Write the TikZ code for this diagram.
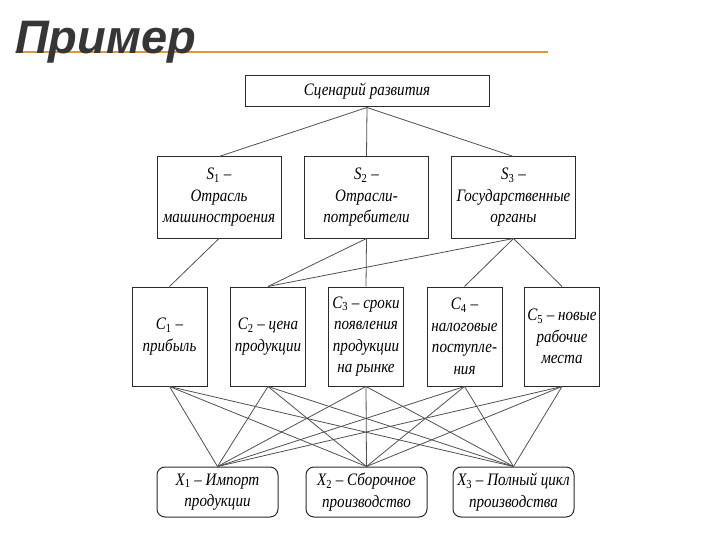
\documentclass[tikz,border=0pt]{standalone}
\usepackage{fontspec}
\setmainfont{Liberation Serif}
\newfontfamily\diagfont{Liberation Serif}[FakeStretch=0.86]
\newfontfamily\titlefont{Liberation Sans}
\newcommand{\sbs}[1]{\textsubscript{\upshape #1}}
\definecolor{titlegray}{HTML}{363636}
\definecolor{rule}{HTML}{E0963C}
\definecolor{boxline}{HTML}{2A2A2A}
\definecolor{conn}{HTML}{505050}
\begin{document}
\begin{tikzpicture}[x=1pt,y=-1pt,
  box/.style={draw=boxline, line width=1pt, inner sep=0pt, align=center,
    font=\diagfont\itshape\fontsize{17.5}{21.5}\selectfont},
  topbox/.style={box, minimum width=244pt, minimum height=31pt},
  sbox/.style={box, minimum width=124pt, minimum height=81pt},
  cbox/.style={box, minimum width=75pt, minimum height=99pt},
  xbox/.style={box, minimum width=121pt, minimum height=50pt, rounded corners=8pt},
  link/.style={draw=conn, line width=0.8pt}]
\useasboundingbox (0,0) rectangle (720,540);
% title
\draw[rule, line width=2pt] (15,52) coordinate (rl) -- (548,52) coordinate (rr);
\node[anchor=base west, inner sep=0pt, text=titlegray,
  font=\titlefont\bfseries\itshape\fontsize{47}{47}\selectfont] (title) at (15,54) {Пример};
% nodes
\node[topbox] (top) at (367,91.5) {Сценарий развития};
\node[sbox] (s1) at (219,197.5) {S\sbs{1} –\\Отрасль\\машиностроения};
\node[sbox] (s2) at (366.5,197.5) {S\sbs{2} –\\Отрасли-\\потребители};
\node[sbox] (s3) at (513.5,197.5) {S\sbs{3} –\\Государственные\\органы};
\node[cbox] (c1) at (169.5,336.5) {C\sbs{1} –\\прибыль};
\node[cbox] (c2) at (268,336.5) {C\sbs{2} – цена\\продукции};
\node[cbox] (c3) at (366,336.5) {C\sbs{3} – сроки\\появления\\продукции\\на рынке};
\node[cbox] (c4) at (464.5,336.5) {C\sbs{4} –\\налоговые\\поступле-\\ния};
\node[cbox] (c5) at (562,336.5) {C\sbs{5} – новые\\рабочие\\места};
\node[xbox] (x1) at (217.5,492) {X\sbs{1} – Импорт\\продукции};
\node[xbox] (x2) at (366.5,492) {X\sbs{2} – Сборочное\\производство};
\node[xbox] (x3) at (513.5,492) {X\sbs{3} – Полный цикл\\производства};
% connectors
\foreach \s in {s1,s2,s3} \draw[link] (top.south) -- (\s.north);
\draw[link] (s1.south) -- (c1.north);
\draw[link] (s2.south) -- (c2.north);
\draw[link] (s2.south) -- (c3.north);
\draw[link] (s3.south) -- (c2.north);
\draw[link] (s3.south) -- (c4.north);
\draw[link] (s3.south) -- (c5.north);
\foreach \c in {c1,c2,c3,c4,c5}
  \foreach \x in {x1,x2,x3}
    \draw[link] (\c.south) -- (\x.north);
\end{tikzpicture}
\end{document}
